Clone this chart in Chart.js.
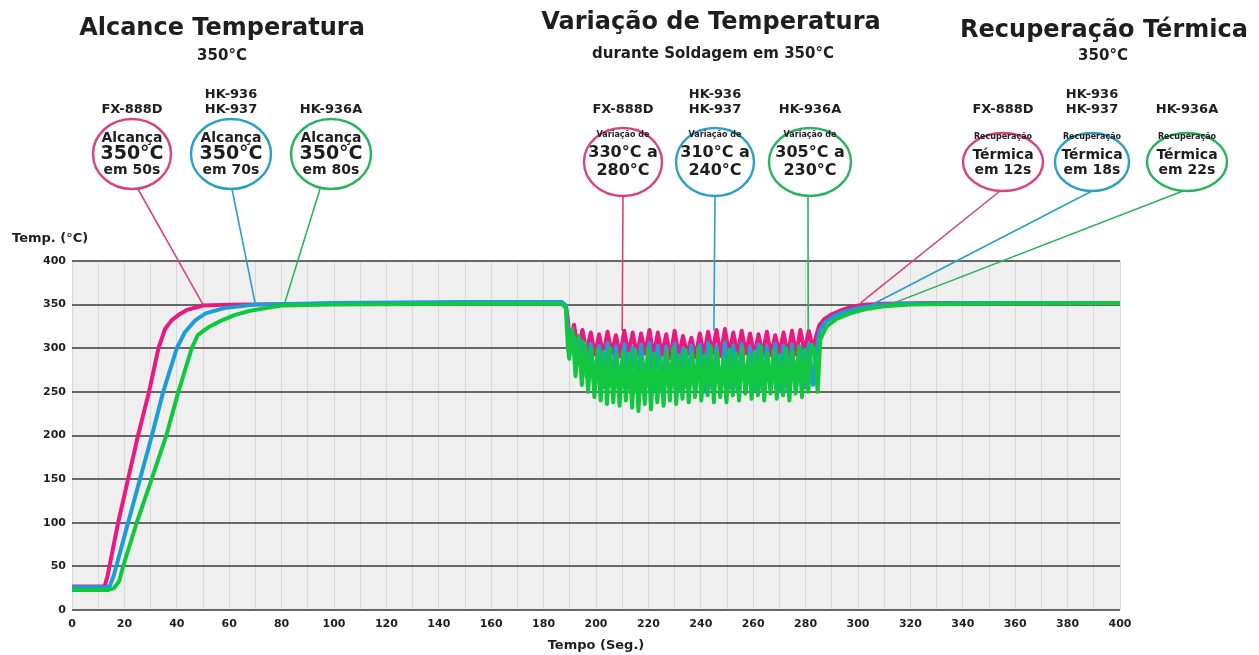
<!DOCTYPE html>
<html>
<head>
<meta charset="utf-8">
<script src="https://cdn.jsdelivr.net/npm/chart.js@4.4.0/dist/chart.umd.min.js"></script>
<style>
    html, body { margin: 0; padding: 0; background: #ffffff; }
    canvas { display: block; }
</style>
</head>
<body>
<canvas id="chart" width="1259" height="655"></canvas>
<script>
    // tempos (s) e temperaturas (°C)
    const pinkRampT = [0, 12, 12.5, 13.5, 17.6, 21.4, 25.2, 29.4, 33, 35.5, 38, 41, 44, 50, 60, 100, 150, 187, 188.5, 189.3];
    const pinkRampY = [27, 27, 28, 38, 100, 150, 200, 250, 300, 322, 332, 339, 344, 349, 350, 351, 352, 352, 348, 332];
    const blueRampT = [0, 13, 14.5, 16, 21.4, 30.5, 34.8, 40, 43, 47, 51, 58, 70, 100, 150, 187, 188.5, 189.3];
    const blueRampY = [26, 26, 28, 40, 100, 200, 250, 300, 318, 332, 340, 346, 350, 352, 353, 353, 349, 320];
    const greenRampT = [0, 14, 16, 18, 19.5, 24.7, 30.4, 36, 40.6, 45.7, 48, 52, 56.5, 62, 68, 74, 80, 100, 150, 187, 188.5, 189.3];
    const greenRampY = [23, 23, 25, 33, 50, 100, 150, 200, 250, 300, 315, 324, 331, 338, 343, 346, 349, 350, 351, 351, 346, 300];

    // oscilação durante a soldagem (FX-888D e HK-936/937)
    const oscT = [190, 191.6, 193.2, 194.8, 196.4, 198, 199.6, 201.2, 202.8, 204.4,
        206, 207.6, 209.2, 210.8, 212.4, 214, 215.6, 217.2, 218.8, 220.4,
        222, 223.6, 225.2, 226.8, 228.4, 230, 231.6, 233.2, 234.8, 236.4,
        238, 239.6, 241.2, 242.8, 244.4, 246, 247.6, 249.2, 250.8, 252.4,
        254, 255.6, 257.2, 258.8, 260.4, 262, 263.6, 265.2, 266.8, 268.4,
        270, 271.6, 273.2, 274.8, 276.4, 278, 279.6, 281.2, 282.8, 284.4];
    const pinkOscY = [305, 327, 298, 321, 296, 318, 293, 316, 292, 319,
        294, 315, 291, 320, 293, 318, 292, 317, 294, 321,
        290, 318, 292, 316, 289, 320, 291, 314, 293, 312,
        290, 317, 292, 319, 294, 321, 291, 322, 293, 318,
        292, 320, 294, 317, 291, 316, 293, 319, 292, 315,
        294, 318, 291, 320, 293, 321, 296, 320, 300, 318];
    const blueOscY = [300, 314, 282, 308, 268, 305, 260, 303, 256, 306,
        257, 302, 253, 305, 255, 301, 251, 304, 255, 306,
        252, 303, 250, 302, 253, 305, 251, 300, 254, 303,
        252, 304, 250, 306, 253, 302, 251, 306, 254, 303,
        252, 305, 250, 301, 253, 304, 251, 302, 254, 305,
        252, 303, 250, 304, 253, 302, 255, 305, 258, 303];

    // HK-936A oscila com passo próprio
    const greenOscT = [189.8, 191, 192.2, 193.4, 194.6, 195.8, 197, 198.2, 199.4, 200.6,
        201.8, 203, 204.2, 205.4, 206.6, 207.8, 209, 210.2, 211.4, 212.6,
        213.8, 215, 216.2, 217.4, 218.6, 219.8, 221, 222.2, 223.4, 224.6,
        225.8, 227, 228.2, 229.4, 230.6, 231.8, 233, 234.2, 235.4, 236.6,
        237.8, 239, 240.2, 241.4, 242.6, 243.8, 245, 246.2, 247.4, 248.6,
        249.8, 251, 252.2, 253.4, 254.6, 255.8, 257, 258.2, 259.4, 260.6,
        261.8, 263, 264.2, 265.4, 266.6, 267.8, 269, 270.2, 271.4, 272.6,
        273.8, 275, 276.2, 277.4, 278.6, 279.8, 281, 282.2, 283.4, 284.6];
    const greenOscY = [288, 322, 268, 314, 258, 306, 250, 300, 244, 298,
        240, 296, 236, 300, 238, 292, 234, 296, 240, 294,
        232, 298, 228, 290, 236, 300, 230, 294, 238, 290,
        234, 296, 240, 300, 236, 292, 242, 298, 238, 294,
        244, 300, 240, 292, 246, 302, 238, 296, 244, 290,
        238, 298, 246, 294, 240, 300, 248, 292, 242, 296,
        246, 302, 240, 294, 248, 298, 242, 292, 246, 300,
        240, 296, 248, 302, 244, 298, 250, 304, 296, 250];

    // recuperação térmica
    const pinkRecT = [285.2, 287, 290, 294, 298, 302, 310, 330, 400];
    const pinkRecY = [326, 333, 339, 344, 348, 350, 351, 352, 352];
    const blueRecT = [285.4, 287.5, 291, 295, 300, 306, 315, 340, 400];
    const blueRecY = [320, 330, 337, 342, 346, 349, 351, 352, 352];
    const greenRecT = [285.6, 288, 292, 297, 303, 310, 320, 340, 400];
    const greenRecY = [310, 325, 334, 340, 345, 348, 350, 351, 352];

    const xLabelTicks = [0, 20, 40, 60, 80, 100, 120, 140, 160, 180, 200, 220, 240, 260, 280, 300, 320, 340, 360, 380, 400];
    const yTicks = [0, 50, 100, 150, 200, 250, 300, 350, 400];

    const FONT = '"DejaVu Sans", "Liberation Sans", sans-serif';
    const TEXT = '#1e1e1e';

    function toPoints(ts, ys) {
        return ts.map((t, i) => ({ x: t, y: ys[i] }));
    }

    const pinkData = toPoints([...pinkRampT, ...oscT, ...pinkRecT], [...pinkRampY, ...pinkOscY, ...pinkRecY]);
    const blueData = toPoints([...blueRampT, ...oscT, ...blueRecT], [...blueRampY, ...blueOscY, ...blueRecY]);
    const greenData = toPoints([...greenRampT, ...greenOscT, ...greenRecT], [...greenRampY, ...greenOscY, ...greenRecY]);

    // balões de chamada: modelo, textos e ponto (tempo, temp) apontado
    const callouts = [
        { color: '#d8437f', cx: 132, cy: 154, rx: 39, ry: 35, model: ['FX-888D'], from: [138, 189], to: [50, 350],
          lines: [['Alcança', 14, -16], ['350°C', 19, 0], ['em 50s', 14, 16]] },
        { color: '#2a9fc9', cx: 231, cy: 154, rx: 40, ry: 35, model: ['HK-936', 'HK-937'], from: [232, 189], to: [70, 350],
          lines: [['Alcança', 14, -16], ['350°C', 19, 0], ['em 70s', 14, 16]] },
        { color: '#29b35c', cx: 331, cy: 154, rx: 40, ry: 35, model: ['HK-936A'], from: [320, 189], to: [81, 350],
          lines: [['Alcança', 14, -16], ['350°C', 19, 0], ['em 80s', 14, 16]] },

        { color: '#d8437f', cx: 623, cy: 162, rx: 39, ry: 34, model: ['FX-888D'], from: [623, 196], to: [210, 320],
          lines: [['Variação de', 8, -27], ['330°C a', 16, -9], ['280°C', 16, 9]] },
        { color: '#2a9fc9', cx: 715, cy: 162, rx: 39, ry: 34, model: ['HK-936', 'HK-937'], from: [715, 196], to: [245, 320],
          lines: [['Variação de', 8, -27], ['310°C a', 16, -9], ['240°C', 16, 9]] },
        { color: '#29b35c', cx: 810, cy: 162, rx: 41, ry: 34, model: ['HK-936A'], from: [808, 196], to: [281, 320],
          lines: [['Variação de', 8, -27], ['305°C a', 16, -9], ['230°C', 16, 9]] },

        { color: '#d8437f', cx: 1003, cy: 162, rx: 40, ry: 29, model: ['FX-888D'], from: [1000, 191], to: [301, 352],
          lines: [['Recuperação', 8, -25], ['Térmica', 14, -7], ['em 12s', 14, 8]] },
        { color: '#2a9fc9', cx: 1092, cy: 162, rx: 37, ry: 29, model: ['HK-936', 'HK-937'], from: [1092, 191], to: [306, 351],
          lines: [['Recuperação', 8, -25], ['Térmica', 14, -7], ['em 18s', 14, 8]] },
        { color: '#29b35c', cx: 1187, cy: 162, rx: 40, ry: 29, model: ['HK-936A'], from: [1183, 191], to: [312, 350],
          lines: [['Recuperação', 8, -25], ['Térmica', 14, -7], ['em 22s', 14, 8]] }
    ];

    function drawText(ctx, s, x, y, size, align) {
        ctx.font = 'bold ' + size + 'px ' + FONT;
        ctx.fillStyle = TEXT;
        ctx.textAlign = align || 'center';
        ctx.textBaseline = 'middle';
        ctx.fillText(s, x, y);
    }

    const decorPlugin = {
        id: 'decor',
        beforeDraw(chart) {
            const { ctx, chartArea: a } = chart;
            ctx.save();
            ctx.fillStyle = '#efefef';
            ctx.fillRect(a.left, a.top, a.right - a.left, a.bottom - a.top);
            ctx.restore();
        },
        afterDatasetsDraw(chart) {
            const ctx = chart.ctx;
            const xs = chart.scales.x, ys = chart.scales.y;
            ctx.save();

            // linhas de chamada
            callouts.forEach(c => {
                ctx.beginPath();
                ctx.strokeStyle = c.color;
                ctx.lineWidth = 1.6;
                ctx.moveTo(c.from[0], c.from[1]);
                ctx.lineTo(xs.getPixelForValue(c.to[0]), ys.getPixelForValue(c.to[1]));
                ctx.stroke();
            });

            // balões
            callouts.forEach(c => {
                ctx.beginPath();
                ctx.ellipse(c.cx, c.cy, c.rx, c.ry, 0, 0, Math.PI * 2);
                ctx.fillStyle = '#ffffff';
                ctx.fill();
                ctx.lineWidth = 2.4;
                ctx.strokeStyle = c.color;
                ctx.stroke();
                c.lines.forEach(l => drawText(ctx, l[0], c.cx, c.cy + l[2], l[1]));
                if (c.model.length === 2) {
                    drawText(ctx, c.model[0], c.cx, 95, 13);
                    drawText(ctx, c.model[1], c.cx, 110, 13);
                } else {
                    drawText(ctx, c.model[0], c.cx, 110, 13);
                }
            });

            // títulos
            drawText(ctx, 'Alcance Temperatura', 222, 29, 24);
            drawText(ctx, '350°C', 222, 56, 15);
            drawText(ctx, 'Variação de Temperatura', 711, 23, 24);
            drawText(ctx, 'durante Soldagem em 350°C', 713, 54, 15);
            drawText(ctx, 'Recuperação Térmica', 1104, 31, 24);
            drawText(ctx, '350°C', 1103, 56, 15);

            // títulos dos eixos
            drawText(ctx, 'Temp. (°C)', 12, 239, 13, 'left');
            drawText(ctx, 'Tempo (Seg.)', (chart.chartArea.left + chart.chartArea.right) / 2, 646, 13);
            ctx.restore();
        }
    };

    const ctx = document.getElementById('chart').getContext('2d');
    new Chart(ctx, {
        type: 'line',
        data: {
            datasets: [
                { label: 'FX-888D', data: pinkData, borderColor: '#e8197f', order: 3 },
                { label: 'HK-936 / HK-937', data: blueData, borderColor: '#1b9ed8', order: 2 },
                { label: 'HK-936A', data: greenData, borderColor: '#12c640', order: 1 }
            ]
        },
        options: {
            responsive: false,
            animation: false,
            layout: { padding: { top: 261, right: 139, bottom: 0, left: 0 } },
            elements: {
                line: { borderWidth: 4, tension: 0, fill: false, borderJoinStyle: 'round', borderCapStyle: 'round' },
                point: { radius: 0, hoverRadius: 0 }
            },
            plugins: {
                legend: { display: false },
                tooltip: { enabled: false },
                title: { display: false }
            },
            events: [],
            scales: {
                x: {
                    type: 'linear',
                    min: 0,
                    max: 400,
                    afterFit: s => { s.height = 45; },
                    border: { display: false },
                    grid: { color: '#d8d8d8', lineWidth: 1, drawTicks: false },
                    ticks: {
                        stepSize: 10,
                        autoSkip: false,
                        maxRotation: 0,
                        padding: 8,
                        color: TEXT,
                        font: { family: FONT, size: 11, weight: 'bold' },
                        callback: v => xLabelTicks.includes(v) ? String(v) : ''
                    }
                },
                y: {
                    type: 'linear',
                    min: 0,
                    max: 400,
                    afterFit: s => { s.width = 72; },
                    border: { display: false },
                    grid: { color: '#686868', lineWidth: 2, drawTicks: false },
                    ticks: {
                        stepSize: 50,
                        padding: 6,
                        color: TEXT,
                        font: { family: FONT, size: 11, weight: 'bold' },
                        callback: v => yTicks.includes(v) ? String(v) : ''
                    }
                }
            }
        },
        plugins: [decorPlugin]
    });
</script>
</body>
</html>
